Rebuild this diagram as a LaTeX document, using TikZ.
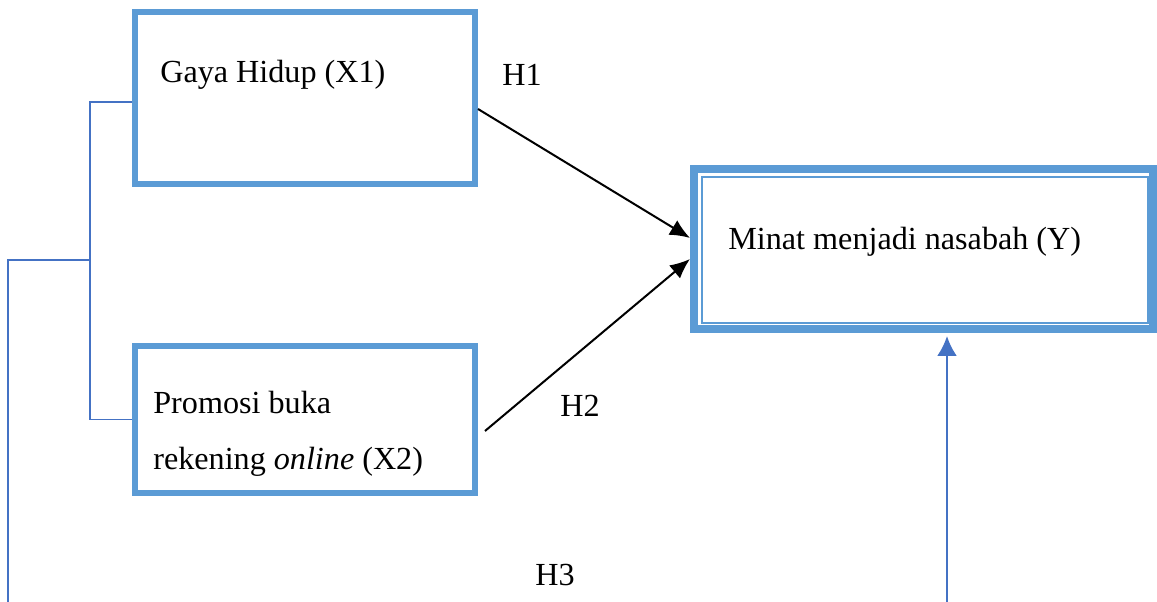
\documentclass[tikz,border=0pt]{standalone}
\usepackage{fontspec}
\setmainfont{Liberation Serif}
\usetikzlibrary{arrows.meta}
\definecolor{boxblue}{HTML}{5B9BD5}
\definecolor{lineblue}{HTML}{4472C4}
\tikzset{varbox/.style={draw=boxblue,line width=0.12cm,minimum width=6.8cm},
         ybox/.style={draw=boxblue,line width=0.16cm},
         yinner/.style={draw=boxblue,line width=0.04cm},
         link/.style={draw=lineblue,line width=0.025cm},
         hyp/.style={line width=0.04cm,-{Latex[length=0.4cm,width=0.34cm]}},
         txt/.style={font=\fontsize{18.3}{32}\selectfont}}

\begin{document}
\begin{tikzpicture}[txt]
\useasboundingbox (0,0) rectangle (23.14,12.04);
\node [varbox,minimum height=3.44cm] (x1) at (6.10,10.08) {};
\node [varbox,minimum height=2.94cm] (x2) at (6.10,3.65) {};
\node [ybox,minimum width=9.18cm,minimum height=3.2cm] (y) at (18.47,7.06) {};
\node [yinner,minimum width=8.92cm,minimum height=2.92cm] (yin) at (18.50,7.04) {};
\node [anchor=west,inner sep=0pt] (x1txt) at (3.20,10.54) {Gaya Hidup (X1)};
\node [anchor=west,align=left,inner sep=0pt] (x2txt) at (3.06,3.36) {Promosi buka\\rekening \emph{online} (X2)};
\node [anchor=west,inner sep=0pt] (ytxt) at (14.56,7.20) {Minat menjadi nasabah (Y)};
\node (h1) at (10.44,10.54) {H1};
\node (h2) at (11.60,3.92) {H2};
\node (h3) at (11.10,0.54) {H3};
% bracket X1 - X2
\coordinate (mid) at (1.80,6.84);
\coordinate (low) at (0.16,0);
\draw [link] ([yshift=-0.08cm]x1.west) -| (mid) |- (x2.west);
\draw [link] (mid) -| (low);
% arrows
\draw [hyp] ([yshift=-0.22cm]x1.east) -- ([yshift=0.22cm]y.west);
\draw [hyp] ([xshift=0.14cm,yshift=-0.23cm]x2.east) -- ([yshift=-0.2cm]y.west);
\coordinate (ybot) at (18.94,0);
\draw [lineblue,line width=0.05cm,-{Latex[length=0.4cm,width=0.4cm]}] (ybot) -- ([yshift=-0.06cm]ybot |- y.south);
\end{tikzpicture}
\end{document}
